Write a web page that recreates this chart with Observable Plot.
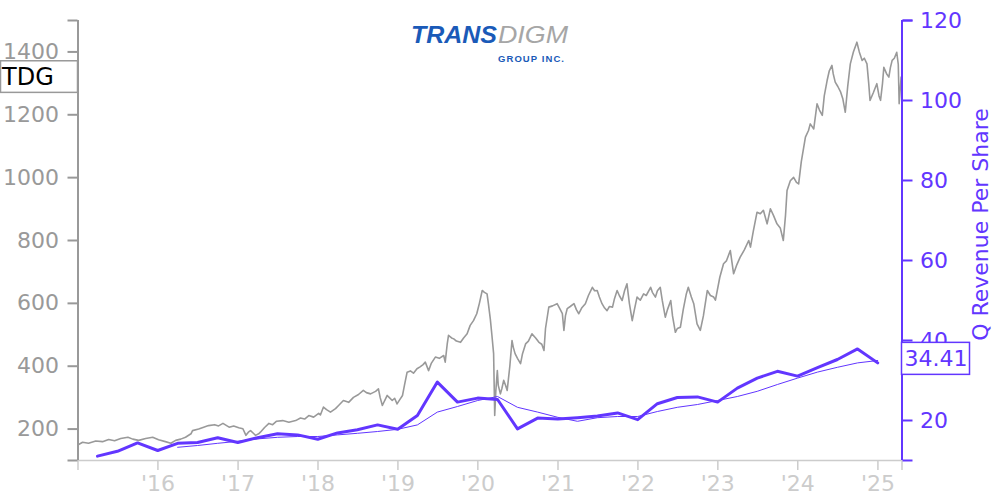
<!DOCTYPE html>
<html><head><meta charset="utf-8">
<script src="https://cdn.jsdelivr.net/npm/d3@7"></script>
<script src="https://cdn.jsdelivr.net/npm/@observablehq/plot@0.6"></script>
<style>
html,body{margin:0;padding:0;background:#fff;}
#chart{position:relative;width:1000px;height:500px;}
</style></head><body><div id="chart"></div>
<script>
// ---------- data ----------
const ticker = "TDG";
const rightTitle = "Q Revenue Per Share";
const lastRevLabel = "34.41";

const priceDates = [
"2015-01-02","2015-01-22","2015-02-18","2015-03-23","2015-04-23","2015-05-21","2015-06-17","2015-07-15","2015-08-17","2015-09-08","2015-10-05","2015-11-06","2015-12-08",
"2016-01-04","2016-02-04","2016-02-29","2016-03-22","2016-04-14","2016-05-06","2016-05-31","2016-06-07","2016-07-05","2016-07-28","2016-08-19","2016-09-16","2016-10-04","2016-10-24","2016-11-21","2016-12-12",
"2017-01-04","2017-01-23","2017-02-06","2017-02-17","2017-02-27","2017-03-13","2017-03-22","2017-04-05","2017-04-13","2017-05-02","2017-05-22","2017-06-08","2017-06-26","2017-07-24","2017-08-21","2017-09-21","2017-10-13","2017-11-01","2017-11-20","2017-12-12",
"2018-01-04","2018-01-12","2018-01-26","2018-02-09","2018-02-27","2018-03-22","2018-04-05","2018-04-27","2018-05-21","2018-06-12","2018-07-05","2018-07-27","2018-08-10","2018-08-29","2018-09-21","2018-10-04","2018-10-12","2018-10-22","2018-11-01","2018-11-13","2018-11-23","2018-12-06","2018-12-17","2018-12-28",
"2019-01-08","2019-01-22","2019-01-31","2019-02-12","2019-02-27","2019-03-13","2019-03-29","2019-04-12","2019-04-26","2019-05-06","2019-05-21","2019-06-03","2019-06-21","2019-07-09","2019-07-29","2019-08-05","2019-08-14","2019-08-20","2019-09-03","2019-09-13","2019-09-25","2019-10-14","2019-10-28","2019-11-13","2019-11-27","2019-12-12","2019-12-27",
"2020-01-08","2020-01-21","2020-01-31","2020-02-12","2020-02-18","2020-02-27","2020-03-05","2020-03-13","2020-03-18","2020-03-23","2020-03-30","2020-04-03","2020-04-13","2020-04-20","2020-04-28","2020-05-06","2020-05-14","2020-05-26","2020-06-05","2020-06-11","2020-06-19","2020-06-30","2020-07-14","2020-07-23","2020-08-06","2020-08-19","2020-09-04","2020-09-21","2020-10-06","2020-10-19","2020-10-29","2020-11-05","2020-11-20","2020-12-07","2020-12-28",
"2021-01-08","2021-01-21","2021-01-28","2021-02-04","2021-02-12","2021-02-26","2021-03-15","2021-03-26","2021-04-06","2021-04-19","2021-05-06","2021-05-20","2021-06-07","2021-06-17","2021-06-29","2021-07-09","2021-07-21","2021-08-02","2021-08-13","2021-08-24","2021-09-07","2021-09-16","2021-09-28","2021-10-08","2021-10-21","2021-11-01","2021-11-12","2021-11-23","2021-12-06","2021-12-16","2021-12-28",
"2022-01-12","2022-01-27","2022-02-08","2022-02-28","2022-03-08","2022-03-22","2022-03-31","2022-04-13","2022-04-22","2022-05-06","2022-05-16","2022-05-31","2022-06-08","2022-06-21","2022-06-30","2022-07-14","2022-07-27","2022-08-10","2022-08-19","2022-09-02","2022-09-13","2022-09-28","2022-10-13","2022-10-27","2022-11-14","2022-11-28","2022-12-13","2022-12-21",
"2023-01-10","2023-01-27","2023-02-09","2023-02-27","2023-03-14","2023-03-27","2023-04-13","2023-05-02","2023-05-22","2023-05-30","2023-06-12","2023-06-29","2023-07-14","2023-07-28","2023-08-14","2023-08-29","2023-09-12","2023-09-28","2023-10-13","2023-10-27","2023-11-06","2023-11-13","2023-11-28","2023-12-13","2023-12-26",
"2024-01-05","2024-01-17","2024-02-05","2024-02-19","2024-02-27","2024-03-14","2024-03-29","2024-04-09","2024-04-22","2024-05-01","2024-05-14","2024-05-24","2024-06-05","2024-06-11","2024-06-20","2024-07-02","2024-07-15","2024-07-25","2024-08-05","2024-08-16","2024-08-28","2024-09-11","2024-09-27","2024-10-08","2024-10-21","2024-10-31","2024-11-12","2024-11-20","2024-11-26","2024-12-11","2024-12-27",
"2025-01-06","2025-01-13","2025-01-22","2025-01-28","2025-02-10","2025-02-20","2025-02-27","2025-03-07","2025-03-17","2025-03-28","2025-04-04","2025-04-08","2025-04-17"
];
const priceValues = [
150,158,155,162,160,167,163,170,174,168,164,170,174,
166,160,155,164,168,174,185,195,200,206,211,214,210,218,206,210,
204,201,180,190,195,186,180,185,190,205,218,214,225,227,222,227,235,232,243,238,
250,245,270,262,254,265,275,291,285,301,310,323,316,312,320,328,300,275,290,307,300,291,298,280,
292,307,340,381,385,378,392,398,405,413,386,410,429,425,434,413,470,498,490,487,480,476,490,503,530,545,567,
600,641,635,630,600,550,500,440,243,320,386,340,312,330,355,340,323,400,482,460,440,425,408,440,471,480,503,490,476,470,450,520,588,592,599,
585,567,514,560,583,590,599,580,567,585,599,625,651,640,641,620,599,585,577,590,588,615,641,625,609,640,662,600,545,580,620,
610,630,625,651,635,620,640,651,610,556,580,609,560,508,520,524,580,630,651,620,599,535,514,560,641,625,620,610,
683,726,735,768,694,720,747,770,800,779,830,890,885,896,853,901,880,853,840,800,880,959,990,1001,985,
980,1050,1129,1150,1171,1155,1235,1215,1198,1260,1309,1340,1357,1330,1304,1290,1272,1250,1208,1290,1362,1400,1431,1400,1373,1380,1362,1300,1246,1270,1299,
1260,1246,1300,1351,1330,1320,1350,1373,1380,1399,1360,1235,1320
];

const quarterDates = [
"2015-03-31","2015-06-30","2015-09-30","2015-12-31",
"2016-03-31","2016-06-30","2016-09-30","2016-12-31",
"2017-03-31","2017-06-30","2017-09-30","2017-12-31",
"2018-03-31","2018-06-30","2018-09-30","2018-12-31",
"2019-03-31","2019-06-30","2019-09-30","2019-12-31",
"2020-03-31","2020-06-30","2020-09-30","2020-12-31",
"2021-03-31","2021-06-30","2021-09-30","2021-12-31",
"2022-03-31","2022-06-30","2022-09-30","2022-12-31",
"2023-03-31","2023-06-30","2023-09-30","2023-12-31",
"2024-03-31","2024-06-30","2024-09-30","2024-12-31"
];
const revPerShare = [
11.1,12.3,14.4,12.5,
14.3,14.5,15.7,14.5,
15.7,16.7,16.4,15.3,
16.9,17.7,18.9,17.8,
21.25,29.6,24.6,25.6,
25.25,17.9,20.6,20.4,
20.7,21.1,21.9,20.2,
24.2,25.75,25.9,24.6,
28.1,30.6,32.3,31.1,
33.2,35.25,37.9,34.41
];
const avgDates = quarterDates.slice(4);
const revAvg = [
13.3,13.75,14.3,14.8,
15.4,15.8,16.0,16.0,
16.4,16.8,17.25,17.8,
18.9,22.1,23.5,25.0,
26.0,23.3,22.1,20.8,
19.8,20.7,21.0,21.0,
22.25,23.3,24.0,25.0,
26.0,27.3,29.0,30.6,
32.1,33.3,34.4,35.0
];

const tickYears = [2015,2016,2017,2018,2019,2020,2021,2022,2023,2024,2025];
const tickYearLabels = ["","'16","'17","'18","'19","'20","'21","'22","'23","'24","'25"];
const leftTicks = [200,400,600,800,1000,1200,1400];
const rightTicks = [20,40,60,80,100,120];
const xDomain = ["2015-01-01","2025-04-21"];
const leftDomain = [100,1500];
const rightDomain = [10,120];

// ---------- chart ----------
const purple = "#6236ff";
const greyLine = "#999999";
const axisGrey = "#999";
const lightGrey = "#cccccc";

const toLeft = r => leftDomain[0] + (r - rightDomain[0]) * (leftDomain[1]-leftDomain[0])/(rightDomain[1]-rightDomain[0]);
const fromLeft = v => rightDomain[0] + (v - leftDomain[0]) * (rightDomain[1]-rightDomain[0])/(leftDomain[1]-leftDomain[0]);

const price = priceDates.map((d,i)=>({date:new Date(d), value:priceValues[i]}));
const rev = quarterDates.map((d,i)=>({date:new Date(d), value:revPerShare[i]}));
const avg = avgDates.map((d,i)=>({date:new Date(d), value:revAvg[i]}));
const xd = xDomain.map(d=>new Date(d));
const yearDates = tickYears.map(y=>new Date(`${y}-01-01`));
const yearLabel = new Map(yearDates.map((d,i)=>[+d, tickYearLabels[i]]));

const plot = Plot.plot({
  width:1000, height:500,
  marginTop:20, marginBottom:40, marginLeft:77.5, marginRight:98.5,
  x:{type:"utc", domain:xd},
  y:{domain:leftDomain},
  style:{fontFamily:"'DejaVu Sans', sans-serif", background:"white"},
  marks:[
    Plot.ruleY([leftDomain[0]], {stroke:lightGrey, strokeWidth:1.5}),
    Plot.axisX(yearDates, {tickSize:10, tickPadding:5, stroke:lightGrey, fill:lightGrey, strokeWidth:1.5, fontSize:22, tickFormat:d=>yearLabel.get(+d), label:null}),
    Plot.axisX([xd[1]], {tickSize:10, stroke:lightGrey, strokeWidth:1.5, tickFormat:()=>"", label:null}),
    Plot.lineY(price, {x:"date", y:"value", stroke:greyLine, strokeWidth:1.6}),
    Plot.lineY(avg, {x:"date", y:d=>toLeft(d.value), stroke:purple, strokeWidth:1}),
    Plot.lineY(rev, {x:"date", y:d=>toLeft(d.value), stroke:purple, strokeWidth:3}),
    Plot.ruleX([xd[0]], {stroke:axisGrey, strokeWidth:2}),
    Plot.axisY(leftTicks, {anchor:"left", tickSize:10, tickPadding:9, stroke:axisGrey, fill:axisGrey, strokeWidth:2, fontSize:22, tickFormat:d=>String(d), label:null}),
    Plot.axisY(leftDomain, {anchor:"left", tickSize:10, stroke:axisGrey, strokeWidth:2, tickFormat:()=>"", label:null}),
    Plot.ruleX([xd[1]], {stroke:purple, strokeWidth:2}),
    Plot.axisY(rightTicks.map(toLeft), {anchor:"right", tickSize:10, tickPadding:8, stroke:purple, fill:purple, strokeWidth:2, fontSize:22, tickFormat:v=>String(Math.round(fromLeft(v))), label:null}),
    Plot.axisY(rightDomain.map(toLeft), {anchor:"right", tickSize:10, stroke:purple, strokeWidth:2, tickFormat:()=>"", label:null}),
    Plot.text([rightTitle], {frameAnchor:"right", textAnchor:"middle", rotate:-90, dx:79, dy:-16, fill:purple, fontSize:22})
  ]
});
document.getElementById("chart").appendChild(plot);

// ---------- annotations (positioned through Plot scales) ----------
const svg = d3.select(plot);
const ys = plot.scale("y");
const xs = plot.scale("x");

// ticker label at last close
const yT = ys.apply(priceValues[priceValues.length-1]);
const gT = svg.append("g").attr("text-anchor","start");
gT.append("rect").attr("x",0.5).attr("y",yT-15.8).attr("width",xs.apply(xd[0])-0.5).attr("height",31.6)
  .attr("fill","white").attr("stroke",axisGrey).attr("stroke-width",1.5);
gT.append("text").attr("x",2).attr("y",yT+8.7).attr("font-size",24).attr("fill","black")
  .attr("font-family","'DejaVu Sans', sans-serif").text(ticker);

// last revenue label
const yR = ys.apply(toLeft(revPerShare[revPerShare.length-1])) - 4;
const xR = xs.apply(xd[1]);
const gR = svg.append("g").attr("text-anchor","start");
gR.append("rect").attr("x",xR).attr("y",yR-16).attr("width",68).attr("height",32)
  .attr("fill","white").attr("stroke",purple).attr("stroke-width",1.5);
gR.append("text").attr("x",xR+3).attr("y",yR+8).attr("font-size",22).attr("fill",purple)
  .attr("font-family","'DejaVu Sans', sans-serif").text(lastRevLabel);

// logo
const gL = svg.append("g").attr("text-anchor","start").attr("font-family","'Liberation Sans', Arial, sans-serif");
gL.append("text").attr("x",411).attr("y",42.5).attr("font-size",24).attr("font-weight","bold").attr("font-style","italic")
  .attr("fill","#1a5ab8").attr("textLength",86).attr("lengthAdjust","spacingAndGlyphs").text("TRANS");
gL.append("text").attr("x",498).attr("y",42.5).attr("font-size",24).attr("font-style","italic")
  .attr("fill","#a6a6a6").attr("textLength",70).attr("lengthAdjust","spacingAndGlyphs").text("DIGM");
gL.append("text").attr("x",498).attr("y",61.5).attr("font-size",9.5).attr("font-weight","bold")
  .attr("fill","#1a5ab8").attr("textLength",66).attr("lengthAdjust","spacing").text("GROUP INC.");
</script>
</body></html>
